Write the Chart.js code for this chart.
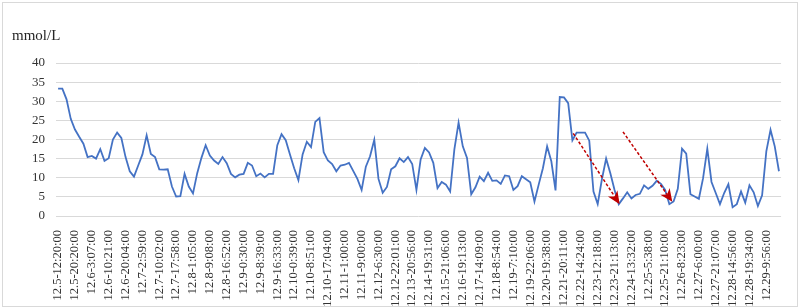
<!DOCTYPE html>
<html>
<head>
<meta charset="utf-8">
<script src="https://cdn.jsdelivr.net/npm/chart.js@4"></script>
<style>
  html, body { margin: 0; padding: 0; background: #fff; }
  #wrap { width: 800px; height: 307px; }
</style>
</head>
<body>
<div id="wrap"><canvas id="glucose" width="800" height="307"></canvas></div>
<script>
// tick labels shown on the x axis (every 4th reading)
const tickLabels = [
  '12.5-12:20:00', '12.5-20:20:00', '12.6-3:07:00', '12.6-10:21:00', '12.6-20:04:00',
  '12.7-2:59:00', '12.7-10:02:00', '12.7-17:58:00', '12.8-1:05:00', '12.8-9:08:00',
  '12.8-16:52:00', '12.9-0:30:00', '12.9-8:39:00', '12.9-16:33:00', '12.10-0:39:00',
  '12.10-8:51:00', '12.10-17:04:00', '12.11-1:00:00', '12.11-9:00:00', '12.12-6:30:00',
  '12.12-22:01:00', '12.13-20:56:00', '12.14-19:31:00', '12.15-21:06:00', '12.16-19:13:00',
  '12.17-14:09:00', '12.18-8:54:00', '12.19-7:10:00', '12.19-22:06:00', '12.20-19:38:00',
  '12.21-20:11:00', '12.22-14:24:00', '12.23-12:18:00', '12.23-21:13:00', '12.24-13:32:00',
  '12.25-5:38:00', '12.25-21:10:00', '12.26-8:23:00', '12.27-6:00:00', '12.27-21:07:00',
  '12.28-14:56:00', '12.28-19:34:00', '12.29-9:56:00'
]

// glucose readings, mmol/L
const glucose = [
  33.3, 33.3, 30.5, 25.4, 22.6, 20.7, 18.9, 15.4, 15.7, 15.0,
  17.5, 14.4, 15.1, 20.0, 21.8, 20.4, 15.4, 11.7, 10.3, 13.2,
  16.1, 21.1, 16.2, 15.4, 12.2, 12.1, 12.2, 7.7, 5.1, 5.2,
  11.0, 7.7, 5.9, 11.2, 15.2, 18.5, 15.8, 14.5, 13.6, 15.4,
  13.8, 11.0, 10.1, 10.8, 11.0, 13.9, 13.2, 10.4, 11.1, 10.1,
  11.0, 11.0, 18.5, 21.4, 19.8, 16.1, 12.5, 9.4, 16.1, 19.4,
  18.0, 24.6, 25.6, 16.7, 14.5, 13.6, 11.7, 13.2, 13.4, 13.9,
  11.8, 9.7, 6.8, 12.9, 15.6, 19.9, 9.7, 6.1, 7.6, 12.2,
  13.0, 15.1, 14.1, 15.4, 13.6, 6.8, 14.8, 17.8, 16.6, 13.9,
  7.3, 8.9, 8.2, 6.4, 17.4, 24.4, 18.2, 15.2, 5.7, 7.5,
  10.3, 9.1, 11.3, 9.2, 9.3, 8.4, 10.6, 10.4, 6.8, 7.8,
  10.4, 9.6, 8.8, 3.8, 8.2, 12.5, 18.2, 14.3, 6.7, 31.1,
  31.0, 29.5, 19.8, 21.8, 21.8, 21.8, 19.7, 6.4, 3.1, 9.6,
  15.0, 11.2, 6.8, 3.1, 4.6, 6.2, 4.6, 5.5, 5.8, 8.0,
  7.1, 7.9, 9.2, 8.4, 6.8, 3.1, 3.8, 7.1, 17.6, 16.3,
  5.7, 5.1, 4.5, 9.9, 17.6, 8.9, 6.0, 3.1, 6.0, 8.3,
  2.3, 3.1, 6.4, 3.5, 8.0, 6.2, 2.6, 5.4, 16.9, 22.5,
  18.2, 11.7
]

// red dashed arrows: [fromIndex, fromValue, toIndex, toValue]
const arrows = [
  [122.2, 21.6, 133.2, 3.1],
  [134.0, 22.0, 145.7, 3.7]
]

const categories = glucose.map((v, i) => i % 4 === 0 ? tickLabels[i / 4] : '')

const serif = "'Liberation Serif', 'Times New Roman', serif"

const frame = {
    id: 'frame',
    beforeDraw(chart) {
        const ctx = chart.ctx
        ctx.save()
        ctx.fillStyle = '#fff'
        ctx.fillRect(0, 0, chart.width, chart.height)
        ctx.strokeStyle = '#d9d9d9'
        ctx.lineWidth = 1
        ctx.strokeRect(2.5, 2.5, chart.width - 5, chart.height - 3)
        ctx.fillStyle = '#262626'
        ctx.font = "15px " + serif
        ctx.textBaseline = 'middle'
        ctx.fillText('mmol/L', 12, 36)
        ctx.restore()
    },
    afterDatasetsDraw(chart) {
        const ctx = chart.ctx
        const xs = chart.scales.x
        const ys = chart.scales.y
        const px = (i) => {
            const lo = Math.floor(i)
            const a = xs.getPixelForValue(lo)
            const b = xs.getPixelForValue(lo + 1)
            return a + (b - a) * (i - lo)
        }
        ctx.save()
        for (const [i0, v0, i1, v1] of arrows) {
            const x0 = px(i0), y0 = ys.getPixelForValue(v0)
            const x1 = px(i1), y1 = ys.getPixelForValue(v1)
            const ang = Math.atan2(y1 - y0, x1 - x0)
            const len = 14
            const bx = x1 - Math.cos(ang) * len * 0.65
            const by = y1 - Math.sin(ang) * len * 0.65
            ctx.strokeStyle = '#c00000'
            ctx.lineWidth = 1.5
            ctx.setLineDash([3, 2])
            ctx.beginPath()
            ctx.moveTo(x0, y0)
            ctx.lineTo(bx, by)
            ctx.stroke()
            ctx.setLineDash([])
            ctx.fillStyle = '#c00000'
            ctx.beginPath()
            ctx.moveTo(x1, y1)
            ctx.lineTo(x1 - Math.cos(ang - 0.42) * len, y1 - Math.sin(ang - 0.42) * len)
            ctx.lineTo(bx, by)
            ctx.lineTo(x1 - Math.cos(ang + 0.42) * len, y1 - Math.sin(ang + 0.42) * len)
            ctx.closePath()
            ctx.fill()
        }
        ctx.restore()
    }
}

new Chart(document.getElementById('glucose'), {
    type: 'line',
    data: {
        labels: categories,
        datasets: [{
            data: glucose,
            borderColor: '#4472c4',
            borderWidth: 1.8,
            pointRadius: 0,
            tension: 0,
            fill: false
        }]
    },
    options: {
        responsive: false,
        animation: false,
        layout: { padding: { top: 63, right: 12, left: 0, bottom: 0 } },
        plugins: { legend: { display: false }, tooltip: { enabled: false } },
        scales: {
            x: {
                offset: true,
                grid: { display: false },
                border: { display: false },
                ticks: {
                    autoSkip: false,
                    maxRotation: 90,
                    minRotation: 90,
                    padding: 6,
                    color: '#333333',
                    font: { family: serif, size: 12.5 }
                },
                afterFit(scale) { scale.height = 91 }
            },
            y: {
                min: 0,
                max: 40,
                grid: { color: '#d9d9d9', lineWidth: 1, drawTicks: false },
                border: { display: false },
                ticks: {
                    stepSize: 5,
                    padding: 11,
                    color: '#333333',
                    font: { family: serif, size: 13 }
                },
                afterFit(scale) { scale.width = 56 }
            }
        }
    },
    plugins: [frame]
})
</script>
</body>
</html>
